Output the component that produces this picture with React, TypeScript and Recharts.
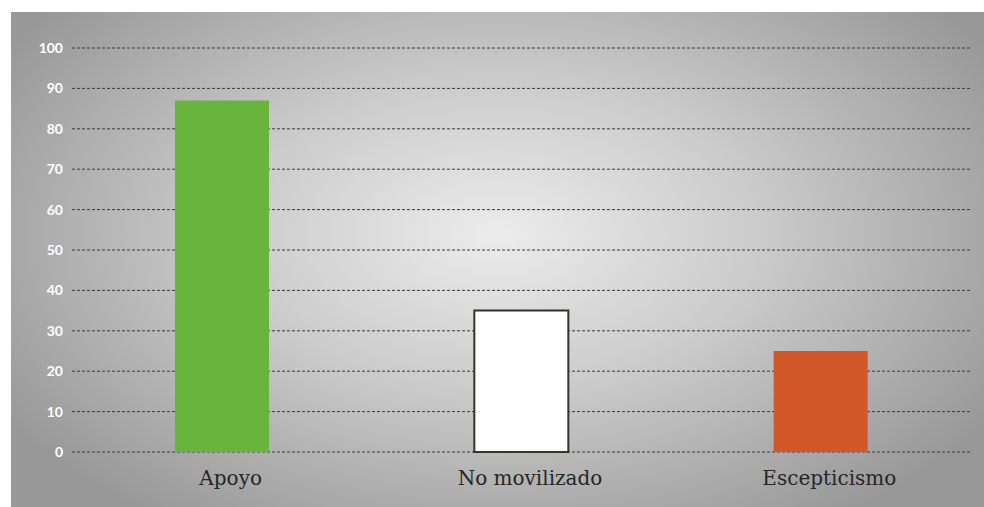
import { BarChart, Bar, Cell, XAxis, YAxis, CartesianGrid } from 'recharts';

const categories = ['Apoyo', 'No movilizado', 'Escepticismo'];
const values = [87, 35, 25];
const yTicks = [0, 10, 20, 30, 40, 50, 60, 70, 80, 90, 100];

const barColors = ['#68b43c', '#ffffff', '#d2572a'];
const barStrokes = ['none', '#3b302c', 'none'];

const data = categories.map((name, i) => ({ name, value: values[i] }));

export default function App() {
  return (
    <div style={{ position: 'absolute', left: 0, top: 0, width: 984, height: 507, background: '#fff' }}>
      {/* gray panel with soft radial light */}
      <div
        style={{
          position: 'absolute',
          left: 11,
          top: 12,
          right: 0,
          bottom: 0,
          background: 'radial-gradient(ellipse 60% 70% at 50% 45%, #ececec 0%, #cbcbcb 45%, #989898 100%)',
        }}
      />
      <div style={{ position: 'absolute', left: 0, top: 0 }}>
        <BarChart
          width={984}
          height={507}
          data={data}
          margin={{ top: 48, right: 14, bottom: 0, left: 12 }}
        >
          <CartesianGrid vertical={false} stroke="#3a3a3a" strokeDasharray="3 2" strokeWidth={1} />
          <XAxis
            dataKey="name"
            axisLine={false}
            tickLine={false}
            height={55}
            tickMargin={13}
            tick={{ fill: '#262626', fontSize: 20, fontFamily: 'DejaVu Serif', dx: 9 }}
          />
          <YAxis
            type="number"
            domain={[0, 100]}
            ticks={yTicks}
            width={60}
            axisLine={false}
            tickLine={false}
            tickMargin={3}
            tick={{ fill: '#ffffff', fontSize: 14, fontFamily: 'Lato', fontWeight: 700 }}
          />
          <Bar dataKey="value" barSize={94} isAnimationActive={false}>
            {data.map((d, i) => (
              <Cell
                key={d.name}
                fill={barColors[i]}
                stroke={barStrokes[i]}
                strokeWidth={barStrokes[i] === 'none' ? 0 : 2}
              />
            ))}
          </Bar>
        </BarChart>
      </div>
    </div>
  );
}
